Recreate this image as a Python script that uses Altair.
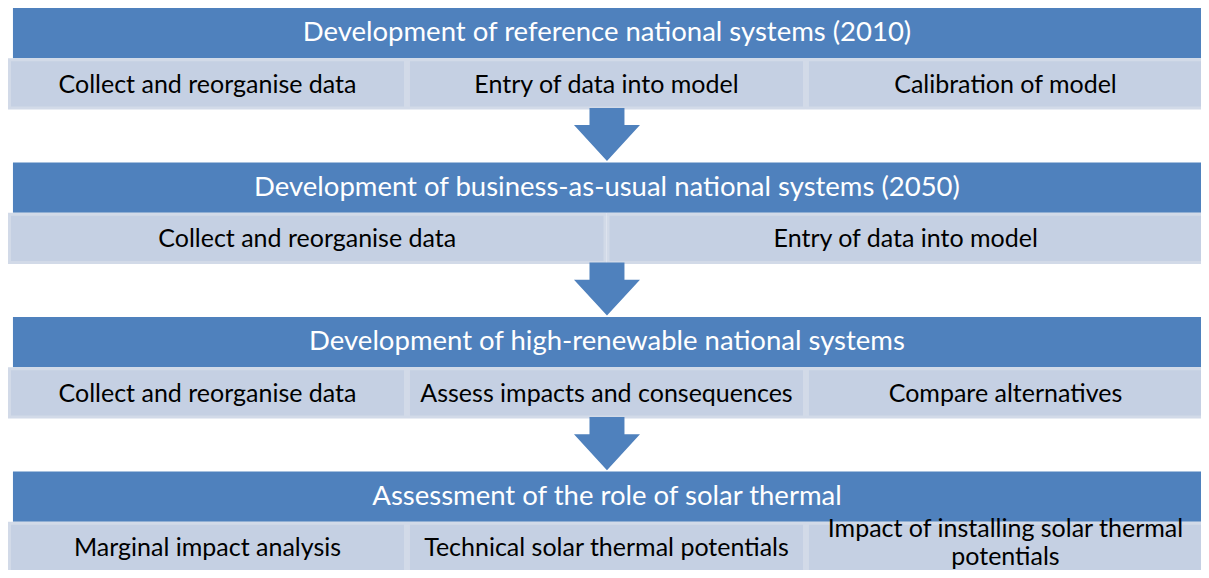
import altair as alt
import pandas as pd

# ---- content ----
headers = [
    "Development of reference national systems (2010)",
    "Development of business-as-usual national systems (2050)",
    "Development of high-renewable national systems",
    "Assessment of the role of solar thermal",
]
subtasks = [
    ["Collect and reorganise data", "Entry of data into model", "Calibration of model"],
    ["Collect and reorganise data", "Entry of data into model"],
    ["Collect and reorganise data", "Assess impacts and consequences", "Compare alternatives"],
    ["Marginal impact analysis", "Technical solar thermal potentials",
     "Impact of installing solar thermal\npotentials"],
]

# ---- layout (pixel units of the reference picture) ----
TOP0, PITCH = 7, 157
HEAD_H, SUB_H = 51, 52
HEAD_L, HEAD_R = 10, 1215
SUB_L, SUB_R = 5, 1213
ARROW_X = 609.5
LINE_H = 28

FONT = "Lato"
BLUE = "#4f81bd"
SUB_FILL = "#c5d0e3"
SUB_STROKE = "#d2dae8"

head_rows, sub_rows, arrow_rows = [], [], []
for i, (h, subs) in enumerate(zip(headers, subtasks)):
    top = TOP0 + i * PITCH
    head_rows.append(dict(x=HEAD_L, x2=HEAD_R, y=top, y2=top + HEAD_H,
                          cx=(HEAD_L + 1209) / 2, cy=top + HEAD_H / 2, label=h))
    n = len(subs)
    w = (SUB_R - SUB_L) / n
    for j, s in enumerate(subs):
        x0 = SUB_L + j * w
        nlines = s.count("\n") + 1
        # position of the first line (multi-line labels start higher)
        shift = 1 - (nlines - 1) * 19.5
        sub_rows.append(dict(x=x0 + 1.5, x2=x0 + w - 1.5,
                             y=top + HEAD_H + 1.5, y2=top + HEAD_H + SUB_H - 1.5,
                             cx=x0 + w / 2, cy=top + HEAD_H + SUB_H / 2 + shift,
                             label=s))
    if i < len(headers) - 1:
        arrow_rows.append(dict(x=ARROW_X, y=top + HEAD_H + SUB_H + 16))

heads = pd.DataFrame(head_rows)
subs_df = pd.DataFrame(sub_rows)
arrows = pd.DataFrame(arrow_rows)

xs = alt.Scale(domain=[5, 1209], nice=False, zero=False)
ys = alt.Scale(domain=[7, 578], nice=False, zero=False, reverse=True)
X = lambda f: alt.X(f, type="quantitative", scale=xs, axis=None)
Y = lambda f: alt.Y(f, type="quantitative", scale=ys, axis=None)

head_rect = alt.Chart(heads).mark_rect(color=BLUE, clip=True).encode(
    x=X("x"), x2="x2", y=Y("y"), y2="y2")
head_text = alt.Chart(heads).mark_text(
    color="white", font=FONT, fontSize=27.5, baseline="middle", align="center",
    clip=True
).encode(x=X("cx"), y=Y("cy"), text="label:N")

sub_rect = alt.Chart(subs_df).mark_rect(
    fill=SUB_FILL, stroke=SUB_STROKE, strokeWidth=3, clip=True
).encode(x=X("x"), x2="x2", y=Y("y"), y2="y2")
sub_text = alt.Chart(subs_df).mark_text(
    color="black", font=FONT, fontSize=25, baseline="middle", align="center",
    lineBreak="\n", lineHeight=LINE_H, clip=True
).encode(x=X("cx"), y=Y("cy"), text="label:N")

ARROW_PATH = "M-0.53,-0.52L0.53,-0.52L0.53,0L1,0L0,1.09L-1,0L-0.53,0Z"
arrow = alt.Chart(arrows).mark_point(
    shape=ARROW_PATH, filled=True, color=BLUE, opacity=1, size=66 * 66,
    strokeWidth=0, clip=True
).encode(x=X("x"), y=Y("y"))

chart = alt.layer(head_rect, sub_rect, arrow, head_text, sub_text).properties(
    width=1193, height=562, padding=0,
    autosize=alt.AutoSizeParams(type="fit", contains="padding"),
).configure_view(stroke=None)

chart.save("out.html", embed_options={"renderer": "svg", "actions": False})
